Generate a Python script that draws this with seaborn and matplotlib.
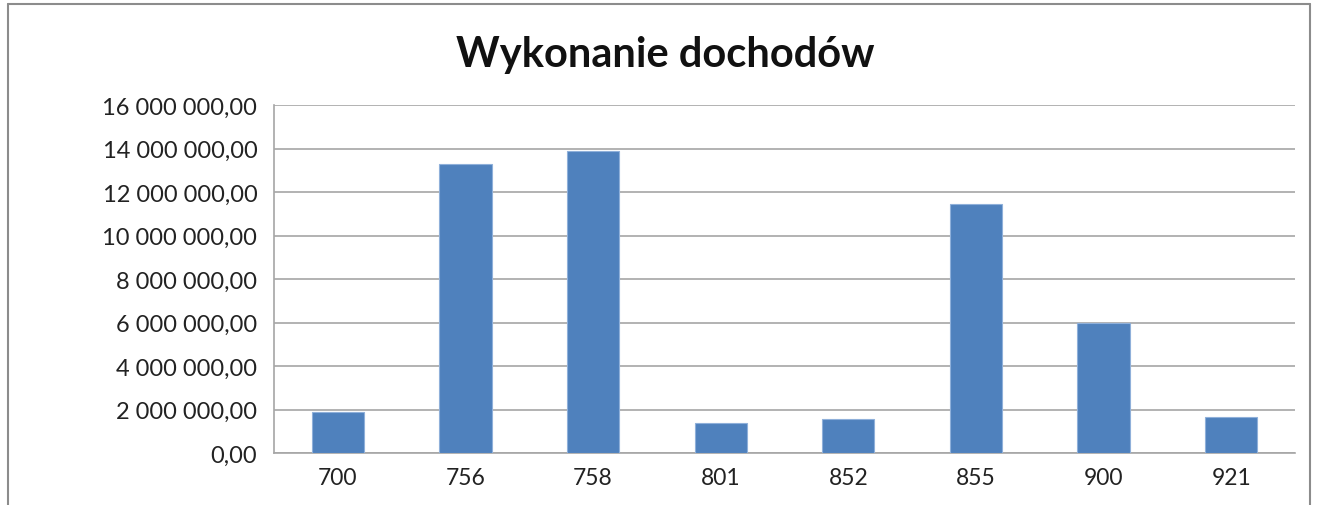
import numpy as np
import pandas as pd
import matplotlib
matplotlib.use("Agg")
import matplotlib.pyplot as plt
import seaborn as sns
from matplotlib.ticker import FuncFormatter, FixedLocator

# dane
kategorie = ["700", "756", "758", "801", "852", "855", "900", "921"]
wartosci = [1870000, 13310000, 13900000, 1400000, 1550000, 11430000, 5980000, 1640000]
tytul = "Wykonanie dochodów"

df = pd.DataFrame({"dzial": kategorie, "kwota": wartosci})

sns.set_style("white")
plt.rcParams['font.family'] = ['Lato', 'DejaVu Sans']

fig = plt.figure(figsize=(13.19, 5.06), dpi=100)
ax = fig.add_axes([274 / 1319, 1 - 454 / 506, (1295 - 274) / 1319, (454 - 106) / 506])

sns.barplot(data=df, x="dzial", y="kwota", color="#4F81BD", saturation=1,
            width=0.41, edgecolor="#8FB0DA", linewidth=0.8, ax=ax, zorder=3)

ax.set_ylim(0, 16000000)
ax.set_xlim(-0.5, len(kategorie) - 0.5)
ax.set_yticks(np.arange(0, 16000001, 2000000))


def fmt(v, pos):
    s = f"{v:,.2f}"
    return s.replace(",", " ").replace(".", ",")


ax.yaxis.set_major_formatter(FuncFormatter(fmt))
ax.yaxis.grid(True, color="#A6A6A6", linewidth=1.2, zorder=0)
ax.set_axisbelow(True)

ax.xaxis.set_minor_locator(FixedLocator(np.arange(-0.5, len(kategorie), 1)))
ax.tick_params(axis="x", which="major", length=0, labelsize=16.5, pad=10, colors="#222222")
ax.tick_params(axis="x", which="minor", length=6, width=1, color="#A6A6A6", direction="out")
ax.tick_params(axis="y", length=6, width=1, color="#A6A6A6", labelsize=17, pad=6)
ax.tick_params(axis="y", colors="#A6A6A6", labelcolor="#222222")

for s in ["top", "right"]:
    ax.spines[s].set_visible(False)
for s in ["left", "bottom"]:
    ax.spines[s].set_color("#A6A6A6")
    ax.spines[s].set_linewidth(1.2)

ax.set_xlabel("")
ax.set_ylabel("")

fig.text(665 / 1319, 1 - 55 / 506, tytul, ha="center", va="center",
         fontsize=30, fontweight="bold", color="#111111")

# ramka wykresu
fig.add_artist(plt.Line2D([8 / 1319, 8 / 1319], [0, 1 - 5 / 506], color="#8C8C8C", lw=1.5))
fig.add_artist(plt.Line2D([1310 / 1319, 1310 / 1319], [0, 1 - 5 / 506], color="#8C8C8C", lw=1.5))
fig.add_artist(plt.Line2D([8 / 1319, 1310 / 1319], [1 - 5 / 506, 1 - 5 / 506], color="#8C8C8C", lw=1.5))

fig.savefig("out.png", dpi=100)
